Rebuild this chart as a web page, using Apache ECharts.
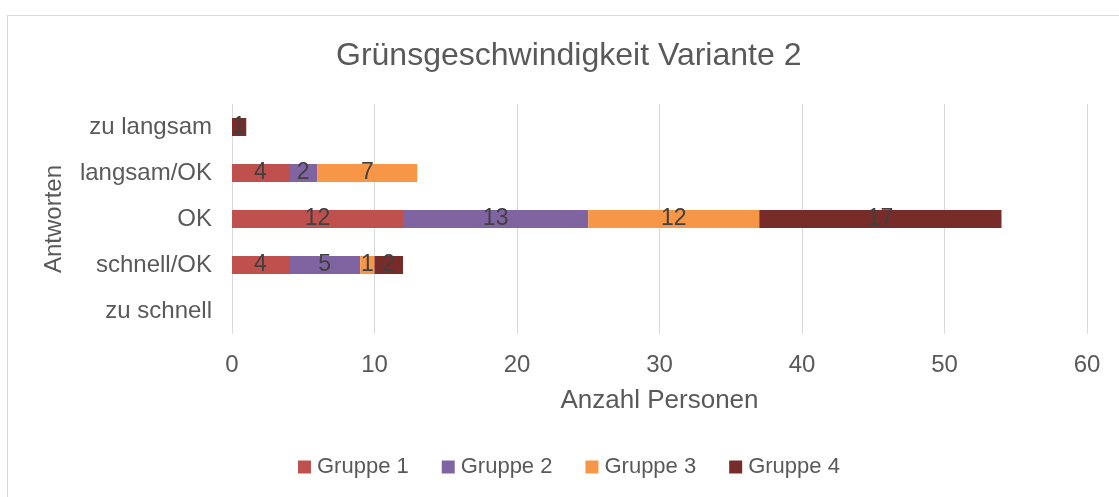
<!DOCTYPE html>
<html>
<head>
<meta charset="utf-8">
<script src="https://cdn.jsdelivr.net/npm/echarts@6/dist/echarts.min.js"></script>
<style>
  html, body { margin: 0; padding: 0; background: #fff; }
  .frame {
    position: absolute; left: 7px; top: 15px; width: 1130px; height: 500px;
    border: 1px solid #d9d9d9; box-sizing: border-box;
  }
  #chart { position: absolute; left: 0; top: 0; width: 1119px; height: 497px; }
</style>
</head>
<body>
<div class="frame"></div>
<div id="chart"></div>
<script>
// Kategorien von unten nach oben (ECharts-Kategorieachse)
const categories = ['zu schnell', 'schnell/OK', 'OK', 'langsam/OK', 'zu langsam']
const gruppe1 = [0, 4, 12, 4, 0]
const gruppe2 = [0, 5, 13, 2, 0]
const gruppe3 = [0, 1, 12, 7, 0]
const gruppe4 = [0, 2, 17, 0, 1]
const xTicks = [0, 10, 20, 30, 40, 50, 60]

const font = 'Liberation Sans, Arial, sans-serif'

const makeSeries = (name, data, color) => ({
  name: name,
  type: 'bar',
  stack: 'total',
  barWidth: 18,
  data: data,
  itemStyle: { color: color },
  label: {
    show: true,
    position: 'inside',
    color: '#404040',
    fontSize: 23,
    fontFamily: font,
    formatter: p => (p.value ? p.value : '')
  }
})

const chart = echarts.init(document.getElementById('chart'))
chart.setOption({
  animation: false,
  title: {
    text: 'Grünsgeschwindigkeit Variante 2',
    left: 331,
    top: 35,
    textStyle: { fontSize: 32, fontWeight: 'normal', color: '#595959', fontFamily: font }
  },
  grid: { left: 232, right: 32, top: 104, bottom: 163 },
  xAxis: {
    type: 'value',
    min: xTicks[0],
    max: xTicks[xTicks.length - 1],
    interval: 10,
    name: 'Anzahl Personen',
    nameLocation: 'middle',
    nameGap: 54,
    nameTextStyle: { fontSize: 26, color: '#595959', fontFamily: font },
    axisLine: { show: false },
    axisTick: { show: false },
    axisLabel: { fontSize: 24, color: '#595959', fontFamily: font, margin: 19 },
    splitLine: { lineStyle: { color: '#d9d9d9', width: 1 } }
  },
  yAxis: {
    type: 'category',
    data: categories,
    name: 'Antworten',
    nameLocation: 'middle',
    nameGap: 166,
    nameRotate: 90,
    nameTextStyle: { fontSize: 24, color: '#595959', fontFamily: font },
    axisLine: { show: false },
    axisTick: { show: false },
    axisLabel: { fontSize: 24, color: '#595959', fontFamily: font, margin: 20 }
  },
  legend: {
    bottom: 14,
    left: 293,
    icon: 'rect',
    itemWidth: 13,
    itemHeight: 13,
    itemGap: 33,
    textStyle: { fontSize: 22, color: '#595959', fontFamily: font, padding: [0, 0, 0, 1] },
    data: ['Gruppe 1', 'Gruppe 2', 'Gruppe 3', 'Gruppe 4']
  },
  series: [
    makeSeries('Gruppe 1', gruppe1, '#c0504d'),
    makeSeries('Gruppe 2', gruppe2, '#8064a2'),
    makeSeries('Gruppe 3', gruppe3, '#f79646'),
    makeSeries('Gruppe 4', gruppe4, '#772c2a')
  ]
})
</script>
</body>
</html>
